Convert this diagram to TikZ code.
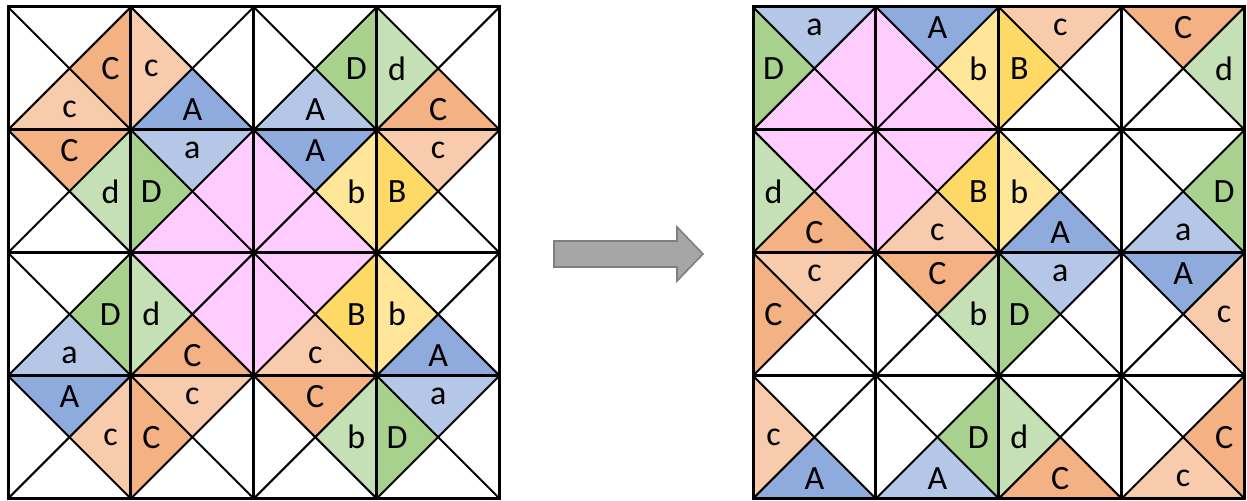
\documentclass[tikz,border=0pt]{standalone}
\usepackage{fontspec}
\setmainfont{Carlito}
\definecolor{oD}{HTML}{F4B183}
\definecolor{oL}{HTML}{F8CBAD}
\definecolor{bD}{HTML}{8FAADC}
\definecolor{bL}{HTML}{B4C7E7}
\definecolor{gD}{HTML}{A9D18E}
\definecolor{gL}{HTML}{C5E0B4}
\definecolor{yD}{HTML}{FFD966}
\definecolor{yL}{HTML}{FFE699}
\definecolor{pk}{HTML}{FFCCFF}
\definecolor{arrowfill}{HTML}{A6A6A6}
\definecolor{arrowline}{HTML}{7F7F7F}
\newcounter{lc}
\newcommand\cs{122.9}
\newcommand\hs{61.45}
\newcommand\ks{41.0}
\tikzset{
  lab/.style={font=\fontsize{17}{17}\selectfont, text=black, inner sep=0pt},
  diag/.style={line width=1pt, black},
  cellline/.style={line width=1.5pt, black, line cap=rect},
}
% #1 grid x0, #2 col, #3 row, #4 angle, #5 colour, #6 label
\newcommand\tg[6]{%
  \begin{scope}[shift={({#1+\cs*(#2+0.5)},{7+\cs*(#3+0.5)})},rotate=#4]
    \fill[#5] (0,0)--(-\hs,-\hs)--(\hs,-\hs)--cycle;
    \stepcounter{lc}%
    \node[lab] (t\arabic{lc}) at (0,-\ks) {#6};
  \end{scope}}
\newcommand\tp[4]{%
  \begin{scope}[shift={({#1+\cs*(#2+0.5)},{7+\cs*(#3+0.5)})},rotate=#4]
    \fill[pk] (0,0)--(-\hs,-\hs)--(\hs,-\hs)--cycle;
  \end{scope}}
\begin{document}
\begin{tikzpicture}[x=0.5pt,y=-0.5pt]
\useasboundingbox (0,0) rectangle (1247,501);
% left grid
\foreach \c/\r/\a/\col/\t in {
  0/0/-90/oD/C, 0/0/180/oL/c,
  1/0/90/oL/c, 1/0/180/bD/A,
  2/0/-90/gD/D, 2/0/180/bL/A,
  3/0/90/gL/d, 3/0/180/oD/C,
  0/1/0/oD/C, 0/1/-90/gL/d,
  1/1/0/bL/a, 1/1/90/gD/D,
  2/1/0/bD/A, 2/1/-90/yL/b,
  3/1/0/oL/c, 3/1/90/yD/B,
  0/2/-90/gD/D, 0/2/180/bL/a,
  1/2/90/gL/d, 1/2/180/oD/C,
  2/2/-90/yD/B, 2/2/180/oL/c,
  3/2/90/yL/b, 3/2/180/bD/A,
  0/3/0/bD/A, 0/3/-90/oL/c,
  1/3/0/oL/c, 1/3/90/oD/C,
  2/3/0/oD/C, 2/3/-90/gL/b,
  3/3/0/bL/a, 3/3/90/gD/D}
  {\tg{8}{\c}{\r}{\a}{\col}{\t}}
\foreach \c/\r/\a in {1/1/-90, 1/1/180, 2/1/90, 2/1/180, 1/2/0, 1/2/-90, 2/2/0, 2/2/90}
  {\tp{8}{\c}{\r}{\a}}
% right grid
\foreach \c/\r/\a/\col/\t in {
  0/0/0/bL/a, 0/0/90/gD/D,
  1/0/0/bD/A, 1/0/-90/yL/b,
  2/0/0/oL/c, 2/0/90/yD/B,
  3/0/0/oD/C, 3/0/-90/gL/d,
  0/1/90/gL/d, 0/1/180/oD/C,
  1/1/-90/yD/B, 1/1/180/oL/c,
  2/1/90/yL/b, 2/1/180/bD/A,
  3/1/-90/gD/D, 3/1/180/bL/a,
  0/2/0/oL/c, 0/2/90/oD/C,
  1/2/0/oD/C, 1/2/-90/gL/b,
  2/2/0/bL/a, 2/2/90/gD/D,
  3/2/0/bD/A, 3/2/-90/oL/c,
  0/3/90/oL/c, 0/3/180/bD/A,
  1/3/-90/gD/D, 1/3/180/bL/A,
  2/3/90/gL/d, 2/3/180/oD/C,
  3/3/-90/oD/C, 3/3/180/oL/c}
  {\tg{753}{\c}{\r}{\a}{\col}{\t}}
\foreach \c/\r/\a in {0/0/-90, 0/0/180, 1/0/90, 1/0/180, 0/1/0, 0/1/-90, 1/1/0, 1/1/90}
  {\tp{753}{\c}{\r}{\a}}
% lines
\foreach \gx in {8,753} {
  \foreach \i in {0,...,3} {
    \foreach \j in {0,...,3} {
      \draw[diag] ({\gx+\cs*\i},{7+\cs*\j}) -- ({\gx+\cs*(\i+1)},{7+\cs*(\j+1)});
      \draw[diag] ({\gx+\cs*(\i+1)},{7+\cs*\j}) -- ({\gx+\cs*\i},{7+\cs*(\j+1)});
    }
  }
  \foreach \i in {0,...,4} {
    \draw[cellline] ({\gx+\cs*\i},7) -- ({\gx+\cs*\i},{7+4*\cs});
    \draw[cellline] (\gx,{7+\cs*\i}) -- ({\gx+4*\cs},{7+\cs*\i});
  }
}
% arrow
\draw[fill=arrowfill, draw=arrowline, line width=0.8pt, line join=miter]
  (554,241) -- (677,241) -- (677,227) -- (703,254) -- (677,281) -- (677,267) -- (554,267) -- cycle;
\end{tikzpicture}
\end{document}
